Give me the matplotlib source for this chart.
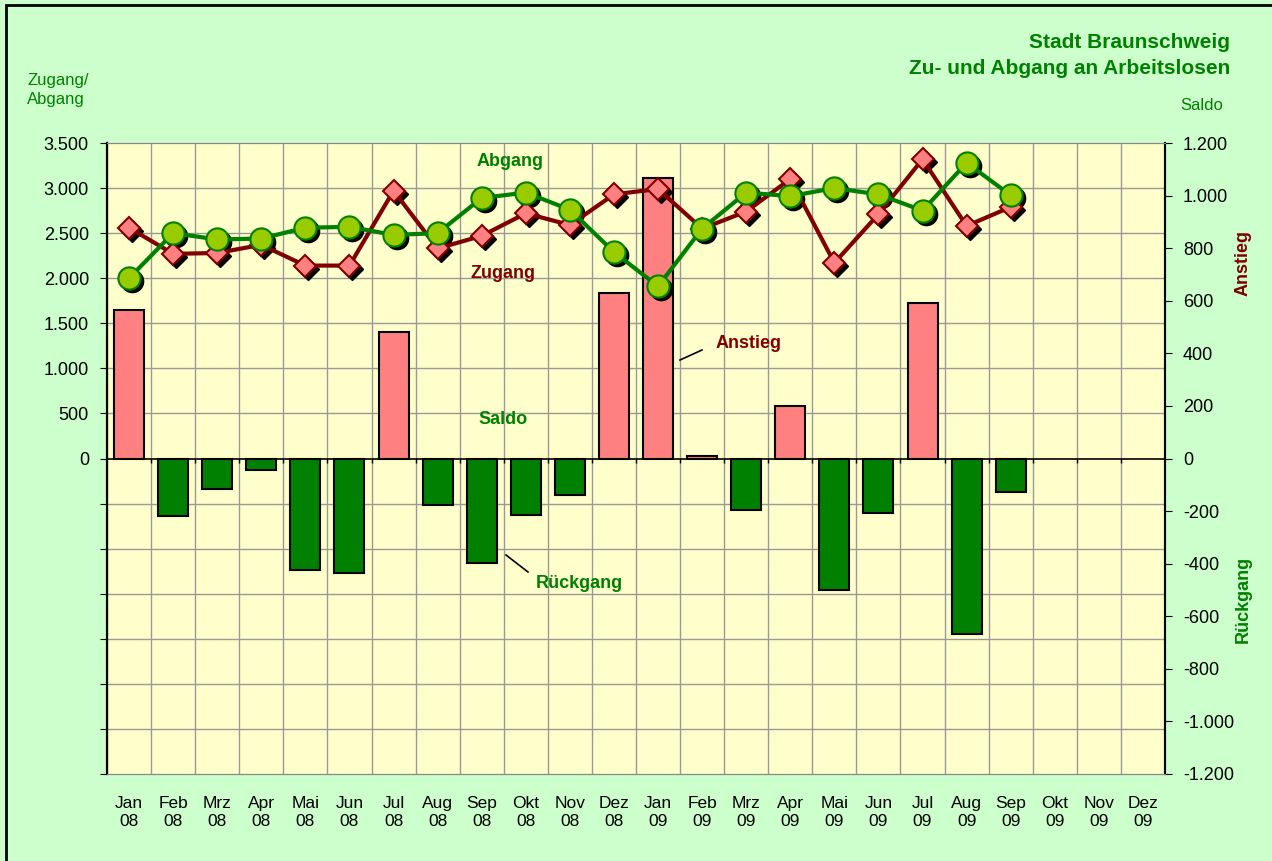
import numpy as np
import matplotlib
matplotlib.use('Agg')
import matplotlib.pyplot as plt
import matplotlib.transforms as mtransforms
from matplotlib.patches import Rectangle

plt.rcParams['font.family'] = ['Liberation Sans', 'DejaVu Sans']

# Daten
monate = ['Jan', 'Feb', 'Mrz', 'Apr', 'Mai', 'Jun', 'Jul', 'Aug', 'Sep', 'Okt', 'Nov', 'Dez'] * 2
jahre = ['08'] * 12 + ['09'] * 12
zugang = [2560, 2270, 2280, 2370, 2140, 2140, 2970, 2330, 2470, 2720, 2590, 2930,
          2990, 2550, 2740, 3100, 2170, 2710, 3320, 2580, 2790]
abgang = [2000, 2500, 2430, 2440, 2560, 2570, 2480, 2500, 2890, 2950, 2760, 2290,
          1910, 2550, 2950, 2910, 3000, 2930, 2750, 3280, 2920]
saldo = [565, -220, -115, -42, -425, -437, 482, -178, -399, -216, -137, 630,
         1067, 11, -197, 201, -501, -209, 592, -668, -129]

gruen = '#008000'
dunkelrot = '#800000'
rosa = '#FF8080'
hellgruen = '#99CC00'

fig = plt.figure(figsize=(12.72, 8.61), dpi=100, facecolor='#CCFFCC')
# ax2 = Saldo (Balken, rechts), ax = Zugang/Abgang (Linien, links)
ax2 = fig.add_axes([107 / 1272, 1 - 774 / 861, (1165 - 107) / 1272, (774 - 143) / 861])
ax = ax2.twinx()
ax.set_zorder(ax2.get_zorder() + 1)
ax.patch.set_visible(False)
ax2.set_facecolor('#FFFFCC')

n = len(monate)
x_all = np.arange(n)
x = np.arange(len(saldo))

# Balken
farben = [rosa if s >= 0 else gruen for s in saldo]
ax2.bar(x, saldo, width=0.68, color=farben, edgecolor='black', linewidth=1.5, zorder=3)
ax2.set_ylim(-1200, 1200)
ax2.set_xlim(-0.5, n - 0.5)
ax2.yaxis.tick_right()
ax2.set_yticks(np.arange(-1200, 1201, 200))
ax2.set_yticklabels([f'{v:,}'.replace(',', '.') for v in range(-1200, 1201, 200)])
ax2.tick_params(axis='y', which='major', direction='out', length=5, labelsize=13, pad=8)
# Gitter (an den linken Skalenwerten)
ax2.set_yticks(np.arange(-3500, 3501, 500) * 1200 / 3500, minor=True)
ax2.set_xticks(np.arange(-0.5, n, 1), minor=True)
ax2.grid(which='minor', color='#999999', linewidth=1.0, zorder=0)
ax2.set_axisbelow(True)
ax2.axhline(0, color='black', linewidth=1.2, zorder=4)
ax2.vlines(np.arange(0.5, n, 1), -18, 0, color='black', linewidth=1.0, zorder=4)

# Monatsbeschriftung
ax2.set_xticks(x_all)
ax2.set_xticklabels([f'{m}\n{j}' for m, j in zip(monate, jahre)], fontsize=12.5, linespacing=1.25)
ax2.tick_params(axis='x', which='both', length=0, pad=16)
ax2.tick_params(axis='y', which='minor', length=0)

# Linien mit Schatten
schatten = mtransforms.offset_copy(ax.transData, fig=fig, x=3, y=-3, units='dots')
ax.plot(x, zugang, linestyle='none', marker='D', markersize=11, color='black', transform=schatten, zorder=2)
ax.plot(x, abgang, linestyle='none', marker='o', markersize=16, color='black', transform=schatten, zorder=2)
ax.plot(x, zugang, color=dunkelrot, linewidth=3, marker='D', markersize=11,
        markerfacecolor=rosa, markeredgecolor=dunkelrot, markeredgewidth=1.5, zorder=3)
ax.plot(x, abgang, color=gruen, linewidth=3, marker='o', markersize=16,
        markerfacecolor=hellgruen, markeredgecolor=gruen, markeredgewidth=1.5, zorder=4)
ax.set_ylim(-3500, 3500)
ax.set_xlim(-0.5, n - 0.5)
ax.yaxis.tick_left()
ax.set_yticks(np.arange(-3500, 3501, 500))
ax.set_yticklabels([f'{v:,}'.replace(',', '.') if v >= 0 else '' for v in range(-3500, 3501, 500)])
ax.tick_params(axis='y', direction='out', length=5, labelsize=13, pad=8)

for a in (ax, ax2):
    a.spines['left'].set_color('black')
    a.spines['right'].set_color('black')
    a.spines['left'].set_linewidth(1.5)
    a.spines['right'].set_linewidth(1.5)
    a.spines['top'].set_color('#888888')
    a.spines['bottom'].set_color('#888888')

# Beschriftungen im Diagramm
ax.text(510 / 1272, 1 - 161 / 861, 'Abgang', transform=fig.transFigure, color=gruen,
        fontsize=13, fontweight='bold', ha='center', va='center')
ax.text(503 / 1272, 1 - 274 / 861, 'Zugang', transform=fig.transFigure, color=dunkelrot,
        fontsize=13, fontweight='bold', ha='center', va='center')
ax.text(503 / 1272, 1 - 419 / 861, 'Saldo', transform=fig.transFigure, color=gruen,
        fontsize=13, fontweight='bold', ha='center', va='center')
ax.text(749 / 1272, 1 - 344 / 861, 'Anstieg', transform=fig.transFigure, color=dunkelrot,
        fontsize=13, fontweight='bold', ha='center', va='center')
ax.text(579 / 1272, 1 - 584 / 861, 'Rückgang', transform=fig.transFigure, color=gruen,
        fontsize=13, fontweight='bold', ha='center', va='center')
fig.add_artist(plt.Line2D([680 / 1272, 702 / 1272], [1 - 360 / 861, 1 - 350 / 861], color='black', linewidth=1.2))
fig.add_artist(plt.Line2D([506 / 1272, 528 / 1272], [1 - 555 / 861, 1 - 572 / 861], color='black', linewidth=1.2))

# Titel und Achsentitel
fig.text(1230 / 1272, 1 - 43 / 861, 'Stadt Braunschweig', color=gruen, fontsize=15,
         fontweight='bold', ha='right', va='center')
fig.text(1230 / 1272, 1 - 68 / 861, 'Zu- und Abgang an Arbeitslosen', color=gruen, fontsize=15,
         fontweight='bold', ha='right', va='center')
fig.text(27 / 1272, 1 - 90 / 861, 'Zugang/\nAbgang', color=gruen, fontsize=12,
         ha='left', va='center', linespacing=1.3)
fig.text(1223 / 1272, 1 - 106 / 861, 'Saldo', color=gruen, fontsize=12, ha='right', va='center')
fig.text(1243 / 1272, 1 - 263 / 861, 'Anstieg', color=dunkelrot, fontsize=13,
         fontweight='bold', rotation=90, ha='center', va='center')
fig.text(1243 / 1272, 1 - 599 / 861, 'Rückgang', color=gruen, fontsize=13,
         fontweight='bold', rotation=90, ha='center', va='center')

# Rahmen
fig.add_artist(Rectangle((6 / 1272, -0.1), 1.2, 1 - 5 / 861 + 0.1, transform=fig.transFigure,
                         fill=False, edgecolor='black', linewidth=2))

fig.savefig('out.png', dpi=100, facecolor=fig.get_facecolor())
